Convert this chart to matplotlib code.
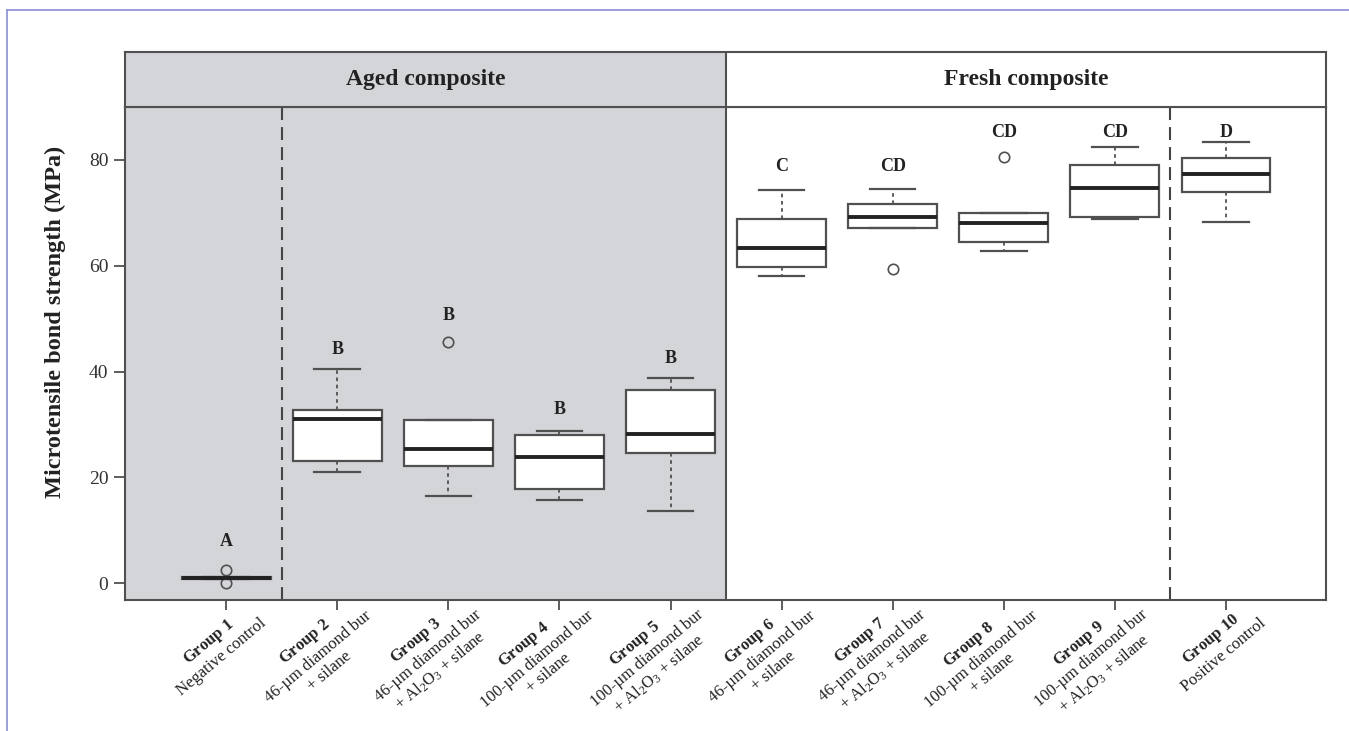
import matplotlib
matplotlib.use("Agg")
import matplotlib.pyplot as plt
from matplotlib.lines import Line2D
from matplotlib.transforms import ScaledTranslation, blended_transform_factory
import numpy as np

plt.rcParams['font.family'] = ['Liberation Serif', 'DejaVu Serif']
plt.rcParams['mathtext.fontset'] = 'custom'
plt.rcParams['mathtext.rm'] = 'Liberation Serif'
plt.rcParams['mathtext.bf'] = 'Liberation Serif:bold'
plt.rcParams['mathtext.it'] = 'Liberation Serif:italic'
plt.rcParams['mathtext.default'] = 'regular'

# ---------------- data ----------------
group_names = ["Group 1", "Group 2", "Group 3", "Group 4", "Group 5",
               "Group 6", "Group 7", "Group 8", "Group 9", "Group 10"]
descriptions = [
    "Negative control",
    "46-µm diamond bur\n+ silane",
    "46-µm diamond bur\n+ Al$_2$O$_3$ + silane",
    "100-µm diamond bur\n+ silane",
    "100-µm diamond bur\n+ Al$_2$O$_3$ + silane",
    "46-µm diamond bur\n+ silane",
    "46-µm diamond bur\n+ Al$_2$O$_3$ + silane",
    "100-µm diamond bur\n+ silane",
    "100-µm diamond bur\n+ Al$_2$O$_3$ + silane",
    "Positive control",
]
panels = ["Aged composite", "Fresh composite"]

q1 = [0.8, 23.1, 22.2, 17.8, 24.6, 59.8, 67.2, 64.5, 69.2, 73.9]
medians = [0.95, 31.1, 25.4, 23.9, 28.3, 63.3, 69.2, 68.0, 74.6, 77.3]
q3 = [1.1, 32.8, 30.9, 28.1, 36.5, 68.9, 71.6, 70.0, 79.1, 80.4]
whisk_lo = [0.8, 21.0, 16.5, 15.8, 13.6, 58.1, 67.2, 62.8, 68.9, 68.2]
whisk_hi = [1.1, 40.4, 30.9, 28.7, 38.8, 74.4, 74.5, 70.0, 82.5, 83.4]
outliers = [[2.6, 0.1], [], [45.6], [], [], [], [59.4], [80.5], [], []]

sig_letters = ["A", "B", "B", "B", "B", "C", "CD", "CD", "CD", "D"]
sig_y = [7.9, 44.2, 50.6, 32.8, 42.5, 78.8, 78.8, 85.1, 85.1, 85.2]

yticks = [0, 20, 40, 60, 80]
ylabel = "Microtensile bond strength (MPa)"

# ---------------- layout ----------------
W, H = 1349, 731
fig = plt.figure(figsize=(W / 100, H / 100), dpi=100)
fig.patch.set_facecolor('white')

L, R, B, T, ST = 125, 1326, 600, 107, 52
ax = fig.add_axes([L / W, 1 - B / H, (R - L) / W, (B - T) / H])
sax = fig.add_axes([L / W, 1 - T / H, (R - L) / W, (T - ST) / H])

gray = '#d4d5d9'
edge = '#505050'
xlim = (0.09, 10.9)
split = 5.5

positions = np.arange(1, len(group_names) + 1)

ax.set_xlim(*xlim)
ax.set_ylim(-3.16, 90.0)
ax.axvspan(xlim[0], split, color=gray, zorder=0, lw=0)
ax.axvline(split, color=edge, lw=1.5, zorder=1)
for xv in (1.5, 9.5):
    ax.axvline(xv, color='#444444', lw=1.5, ls=(0, (6.2, 3.4)), zorder=1)

stats = []
for i in range(len(group_names)):
    stats.append(dict(med=medians[i], q1=q1[i], q3=q3[i],
                      whislo=whisk_lo[i], whishi=whisk_hi[i],
                      fliers=outliers[i], label=group_names[i]))

ax.bxp(stats, positions=positions, widths=0.8, capwidths=0.41,
       patch_artist=True, manage_ticks=False,
       boxprops=dict(facecolor='white', edgecolor=edge, lw=1.6),
       medianprops=dict(color='#222222', lw=2.8, solid_capstyle='butt'),
       whiskerprops=dict(color=edge, lw=1.3, ls=(0, (2, 2))),
       capprops=dict(color=edge, lw=1.6),
       flierprops=dict(marker='o', mfc='none', mec=edge, ms=7.5, mew=1.2))

for x, letter, yv in zip(positions, sig_letters, sig_y):
    ax.text(x, yv, letter, ha='center', va='center', fontsize=13,
            fontweight='bold', color='#222222')

for s in ax.spines.values():
    s.set_color(edge)
    s.set_linewidth(1.5)

ax.set_yticks(yticks)
ax.set_yticklabels([str(v) for v in yticks], fontsize=14, color='#333333')
ax.set_xticks(positions)
ax.set_xticklabels([''] * len(positions))
ax.tick_params(axis='y', length=8, width=1.3, color=edge, pad=4)
ax.tick_params(axis='x', length=7, width=1.3, color=edge)

# rotated multi-line x labels
trans = blended_transform_factory(ax.transData, ax.transAxes) + \
    ScaledTranslation(31 / 100, -13 / 100, fig.dpi_scale_trans)
for x, name, desc in zip(positions, group_names, descriptions):
    bold = r"$\mathbf{" + name.replace(" ", r"\ ") + "}$"
    ax.text(x, 0, bold + "\n" + desc, transform=trans, rotation=40,
            rotation_mode='anchor', ha='right', va='center',
            multialignment='center', fontsize=12, linespacing=1.15,
            color='#222222')

# strip header
sax.set_xlim(*xlim)
sax.set_ylim(0, 1)
sax.axvspan(xlim[0], split, color=gray, lw=0)
sax.axvline(split, color=edge, lw=1.5)
sax.set_xticks([])
sax.set_yticks([])
for s in sax.spines.values():
    s.set_color(edge)
    s.set_linewidth(1.5)
sax.text((xlim[0] + split) / 2, 0.5, panels[0], ha='center', va='center',
         fontsize=17, fontweight='bold', color='#222222')
sax.text((split + xlim[1]) / 2, 0.5, panels[1], ha='center', va='center',
         fontsize=17, fontweight='bold', color='#222222')

fig.text(55 / W, 1 - 322 / H, ylabel, rotation=90, ha='center', va='center',
         fontsize=17.5, fontweight='bold', color='#222222')

# page frame lines
fig.add_artist(Line2D([7 / W, 1], [1 - 10 / H, 1 - 10 / H],
                      transform=fig.transFigure, color='#8a90d4', lw=1.2))
fig.add_artist(Line2D([7 / W, 7 / W], [1 - 10 / H, 0],
                      transform=fig.transFigure, color='#8a90d4', lw=1.2))

fig.savefig("out.png", dpi=100)
